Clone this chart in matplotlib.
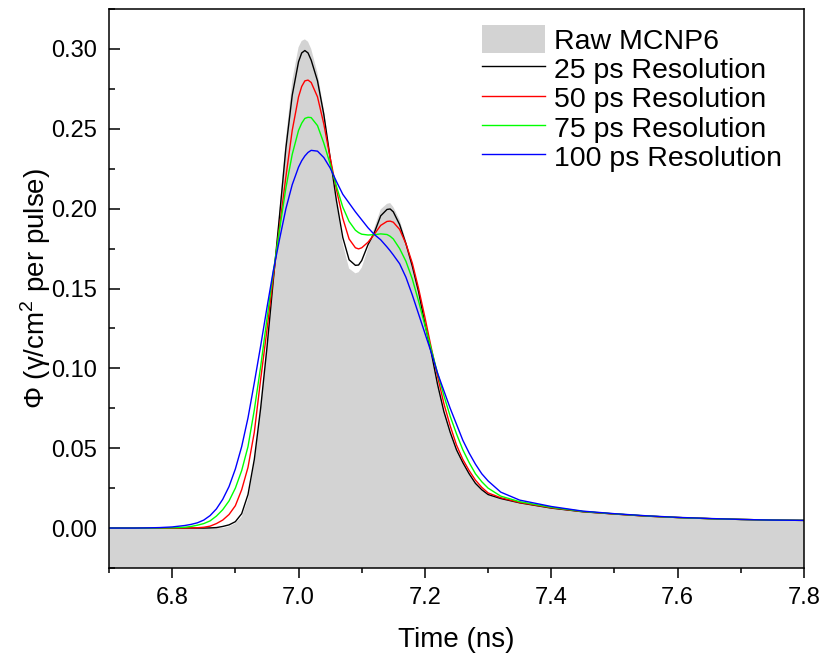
import numpy as np
import matplotlib
matplotlib.use('Agg')
from matplotlib import pyplot as plt
from matplotlib.ticker import MultipleLocator

plt.rcParams['font.family'] = ['Liberation Sans', 'DejaVu Sans']
plt.rcParams['mathtext.fontset'] = 'custom'
plt.rcParams['mathtext.rm'] = 'Liberation Sans'

# time axis (ns)
t = [6.70, 6.74, 6.76, 6.78, 6.80, 6.82, 6.83, 6.84, 6.85, 6.86, 6.87, 6.88, 6.89,
     6.90, 6.91, 6.92, 6.93, 6.94, 6.95, 6.96, 6.97, 6.98, 6.99, 7.00, 7.005, 7.01, 7.015, 7.02,
     7.03, 7.04, 7.05, 7.06, 7.07, 7.08, 7.09, 7.095, 7.10, 7.11, 7.12, 7.13, 7.14, 7.145, 7.15,
     7.16, 7.17, 7.18, 7.19, 7.20, 7.21, 7.22, 7.23, 7.24, 7.25, 7.26, 7.27, 7.28,
     7.29, 7.30, 7.32, 7.35, 7.40, 7.45, 7.50, 7.55, 7.60, 7.65, 7.70, 7.75, 7.80]

raw = [0, 0, 0, 0, 0, 0, 0, 0, 0, 0, 0, 0, 0.001,
       0.003, 0.007, 0.018, 0.041, 0.074, 0.113, 0.156, 0.200, 0.244, 0.280, 0.301, 0.305, 0.306, 0.3045, 0.300,
       0.285, 0.262, 0.233, 0.203, 0.178, 0.1625, 0.1595, 0.1602, 0.163, 0.175, 0.188, 0.1995, 0.203, 0.2035, 0.201,
       0.193, 0.180, 0.165, 0.148, 0.128, 0.110, 0.090, 0.073, 0.060, 0.049, 0.041, 0.034, 0.028,
       0.024, 0.021, 0.0185, 0.0158, 0.0125, 0.0102, 0.0088, 0.0075, 0.0066, 0.0059, 0.0054, 0.0050, 0.0048]

res25 = [0, 0, 0, 0, 0, 0, 0, 0, 0, 0.0001, 0.0003, 0.001, 0.002,
         0.004, 0.009, 0.021, 0.043, 0.075, 0.113, 0.155, 0.196, 0.238, 0.271, 0.292, 0.2975, 0.299, 0.2975, 0.293,
         0.280, 0.259, 0.232, 0.205, 0.182, 0.168, 0.1645, 0.1647, 0.1675, 0.1775, 0.185, 0.1955, 0.1995, 0.1998, 0.198,
         0.190, 0.178, 0.164, 0.148, 0.128, 0.110, 0.090, 0.073, 0.060, 0.049, 0.041, 0.034, 0.028,
         0.024, 0.021, 0.0185, 0.0158, 0.0125, 0.0102, 0.0088, 0.0075, 0.0066, 0.0059, 0.0054, 0.0050, 0.0048]

res50 = [0, 0, 0, 0, 0, 0.0001, 0.0001, 0.0002, 0.0005, 0.0012, 0.0028, 0.005, 0.0085,
         0.014, 0.024, 0.038, 0.060, 0.093, 0.124, 0.157, 0.189, 0.220, 0.249, 0.270, 0.2765, 0.280, 0.2805, 0.279,
         0.270, 0.253, 0.232, 0.212, 0.194, 0.181, 0.1755, 0.1748, 0.1755, 0.179, 0.184, 0.1895, 0.192, 0.1922, 0.1915,
         0.187, 0.178, 0.166, 0.150, 0.132, 0.113, 0.095, 0.078, 0.064, 0.052, 0.043, 0.036, 0.030,
         0.0255, 0.022, 0.019, 0.016, 0.0127, 0.0103, 0.0088, 0.0075, 0.0066, 0.0059, 0.0054, 0.0050, 0.0048]

res75 = [0, 0, 0, 0.0001, 0.0002, 0.0005, 0.001, 0.0018, 0.0028, 0.0045, 0.0075, 0.0115, 0.017,
         0.025, 0.036, 0.051, 0.074, 0.101, 0.131, 0.160, 0.187, 0.213, 0.234, 0.249, 0.2535, 0.2565, 0.2572, 0.257,
         0.252, 0.241, 0.228, 0.214, 0.201, 0.192, 0.1865, 0.185, 0.184, 0.1835, 0.1837, 0.1842, 0.1838, 0.1827, 0.181,
         0.175, 0.167, 0.156, 0.142, 0.127, 0.112, 0.097, 0.083, 0.070, 0.059, 0.049, 0.041, 0.034,
         0.029, 0.025, 0.020, 0.0165, 0.013, 0.0104, 0.0089, 0.0076, 0.0066, 0.0059, 0.0054, 0.0050, 0.0048]

res100 = [0, 0, 0.0001, 0.0003, 0.0007, 0.0016, 0.0023, 0.0033, 0.005, 0.0078, 0.012, 0.018, 0.026,
          0.037, 0.051, 0.069, 0.091, 0.114, 0.138, 0.161, 0.181, 0.200, 0.215, 0.226, 0.230, 0.233, 0.2352, 0.2365,
          0.236, 0.232, 0.2255, 0.217, 0.209, 0.2035, 0.198, 0.1955, 0.193, 0.188, 0.1838, 0.1805, 0.176, 0.1736, 0.171,
          0.1655, 0.157, 0.146, 0.134, 0.122, 0.110, 0.097, 0.086, 0.075, 0.065, 0.055, 0.047, 0.040,
          0.034, 0.0295, 0.0225, 0.0175, 0.0135, 0.0106, 0.0090, 0.0077, 0.0067, 0.0060, 0.0054, 0.0050, 0.0048]

series = [(res25, 'black', '25 ps Resolution'),
          (res50, 'red', '50 ps Resolution'),
          (res75, '#00ff00', '75 ps Resolution'),
          (res100, 'blue', '100 ps Resolution')]

fig = plt.figure(figsize=(8.22, 6.58), dpi=100)
ax = fig.add_axes([0.1326, 0.1368, 0.8455, 0.8495])

ax.fill_between(t, raw, -1, color='#d3d3d3', lw=0, label='Raw MCNP6')
for vals, col, lab in series:
    ax.plot(t, vals, color=col, lw=1.0, label=lab)

ax.set_xlim(6.7, 7.8)
ax.set_ylim(-0.025, 0.325)
ax.xaxis.set_major_locator(MultipleLocator(0.2))
ax.xaxis.set_minor_locator(MultipleLocator(0.1))
ax.yaxis.set_major_locator(MultipleLocator(0.05))
ax.yaxis.set_minor_locator(MultipleLocator(0.025))

ax.tick_params(axis='x', which='major', direction='out', length=7, width=1.1, labelsize=17, pad=7)
ax.tick_params(axis='x', which='minor', direction='out', length=3.6, width=1.1)
ax.tick_params(axis='y', which='major', direction='in', length=8, width=1.1, labelsize=17, pad=8.5)
ax.tick_params(axis='y', which='minor', direction='in', length=4.3, width=1.1)
for s in ax.spines.values():
    s.set_linewidth(1.1)

ax.set_xlabel('Time (ns)', fontsize=20, labelpad=13)
ax.set_ylabel('Φ (γ/cm$^2$ per pulse)', fontsize=20, labelpad=-1.5)

ax.legend(loc='upper right', bbox_to_anchor=(0.9683, 0.971), frameon=False, fontsize=20.5,
          labelspacing=0.0, handlelength=2.21, handleheight=1.1, handletextpad=0.32,
          borderpad=0, borderaxespad=0)

plt.savefig('out.png', dpi=100)
